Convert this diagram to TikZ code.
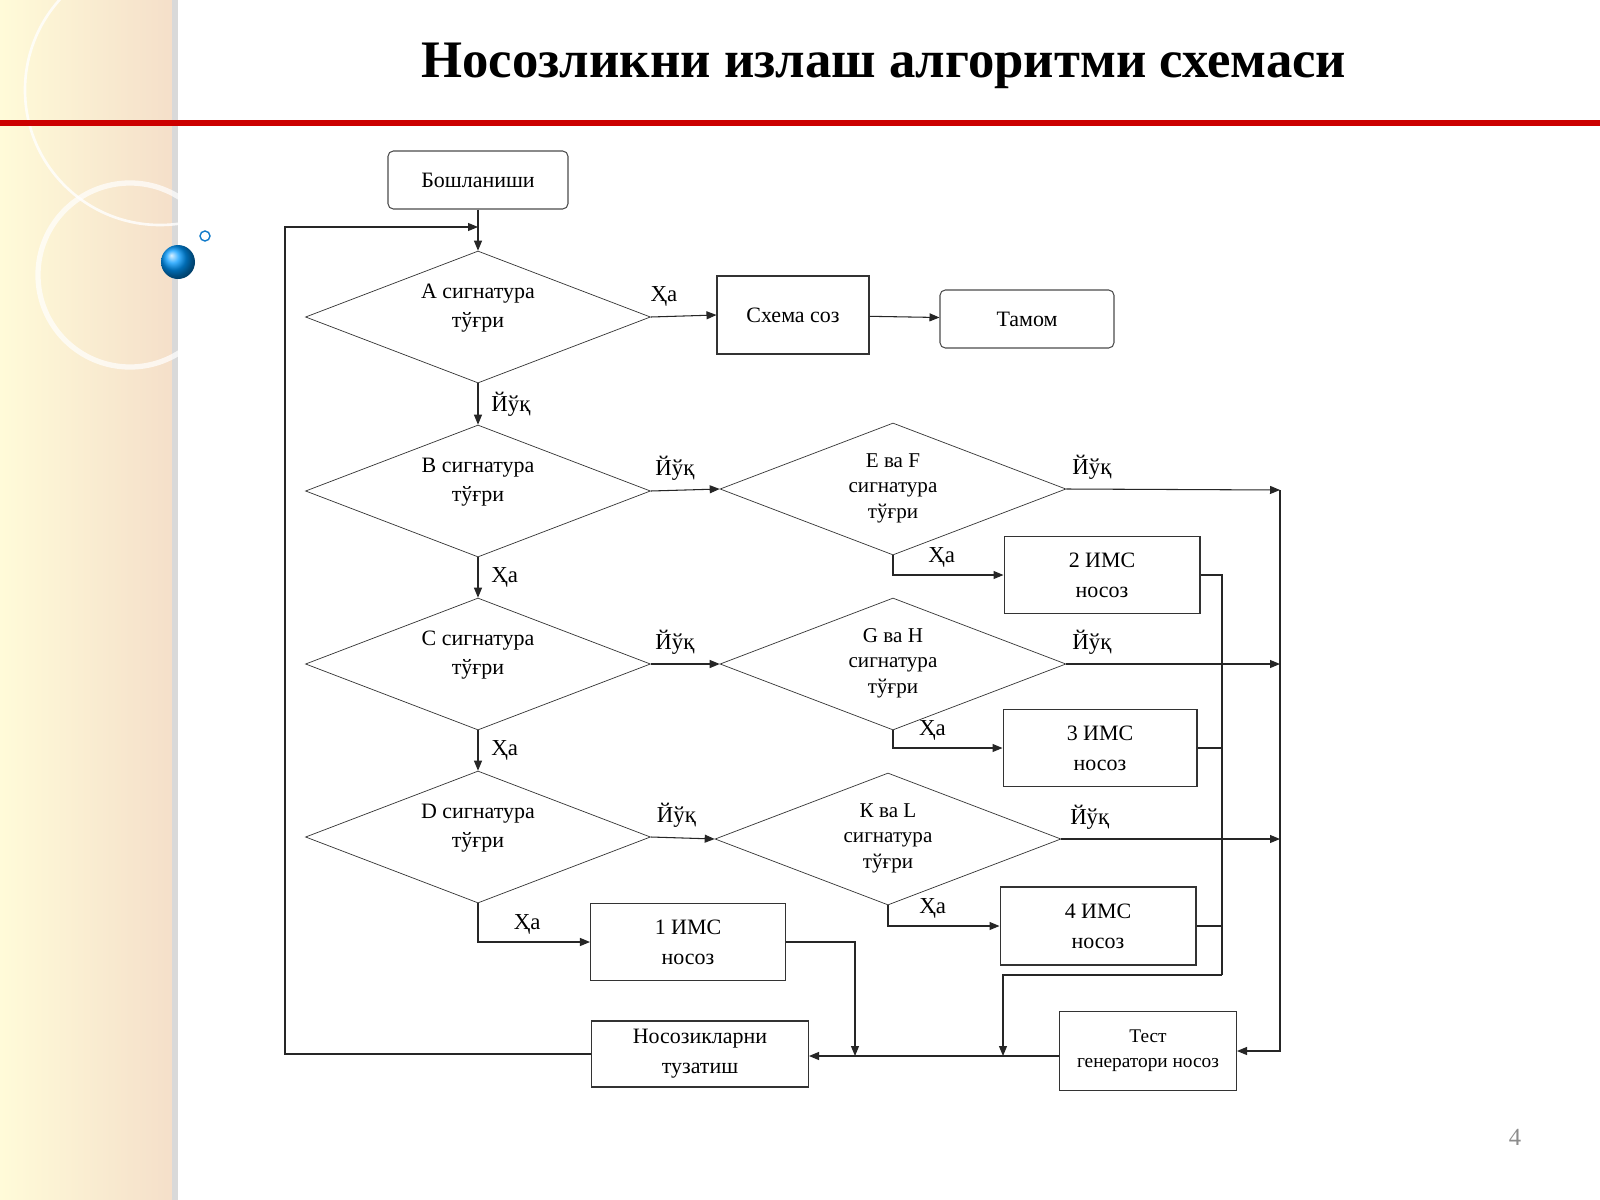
\documentclass[tikz,border=0pt]{standalone}
\usepackage{fontspec}
\setmainfont{Liberation Serif}
\usetikzlibrary{shapes.geometric,arrows.meta}
\begin{document}
\begin{tikzpicture}[x=0.02cm,y=-0.02cm,
  every node/.style={font=\fontsize{12.5}{17}\selectfont},
  box/.style={draw=black!80,semithick,minimum width=#1,align=center,inner sep=2pt},
  rbox/.style={draw=black!70,semithick,rounded corners=3pt,align=center},
  dia/.style={draw=black!80,diamond,minimum width=6.9cm,minimum height=2.64cm,inner sep=0pt},
  dt/.style={align=center,font=\fontsize{12.5}{16.5}\selectfont},
  ln/.style={draw=black!85,semithick},
  arr/.style={ln,-{Triangle[length=0.2cm,width=0.16cm]}},
  lab/.style={font=\fontsize{13}{15}\selectfont}]
\useasboundingbox (0,0) rectangle (1600,1200);
% background
\fill[white] (0,0) rectangle (1600,1200);
\fill[left color=orange!20!yellow!15, right color=orange!35!brown!25] (0,0) rectangle (172,1200);
\fill[black!15] (172,0) rectangle (178,1200);
\draw[white,line width=3pt,opacity=0.7] (130,275) circle (92);
\draw[white,line width=1.5pt,opacity=0.8] (160,90) circle (135);
\shade[ball color=cyan!60!blue] (178,262) circle (17);
\draw[cyan!60!blue,thick] (205,236) circle (5);
\fill[red!80!black] (0,120) rectangle (1600,126);
\node[font=\fontsize{30}{34}\selectfont\bfseries] (title) at (884,66) {Носозликни излаш алгоритми схемаси};
\node[text=black!45,font=\fontsize{14}{16}\selectfont] (pg) at (1515,1137) {4};
% nodes
\node[rbox,minimum width=3.6cm,minimum height=1.16cm] (start) at (478,180) {Бошланиши};
\node[dia] (dA) at (478,317) {};
\node[dt] (tA) at (478,308) {А сигнатура\\тўғри};
\node[box=3.04cm,minimum height=1.56cm] (sxs) at (793,315) {Схема соз};
\node[rbox,minimum width=3.48cm,minimum height=1.16cm] (end) at (1027,319) {Тамом};
\node[dia] (dB) at (478,491) {};
\node[dt] (tB) at (478,482) {В сигнатура\\тўғри};
\node[dia,minimum width=6.92cm] (dEF) at (893,489) {};
\node[dt,font=\fontsize{12}{14.5}\selectfont] (tEF) at (893,488) {Е ва F\\сигнатура\\тўғри};
\node[box=3.92cm,minimum height=1.54cm] (i2) at (1102,575) {2 ИМС\\носоз};
\node[dia] (dC) at (478,664) {};
\node[dt] (tC) at (478,655) {С сигнатура\\тўғри};
\node[dia,minimum width=6.92cm] (dGH) at (893,664) {};
\node[dt,font=\fontsize{12}{14.5}\selectfont] (tGH) at (893,663) {G ва H\\сигнатура\\тўғри};
\node[box=3.88cm,minimum height=1.54cm] (i3) at (1100,748) {3 ИМС\\носоз};
\node[dia] (dD) at (478,837) {};
\node[dt] (tD) at (478,828) {D сигнатура\\тўғри};
\node[dia,minimum width=6.92cm] (dKL) at (888,839) {};
\node[dt,font=\fontsize{12}{14.5}\selectfont] (tKL) at (888,838) {К ва L\\сигнатура\\тўғри};
\node[box=3.92cm,minimum height=1.56cm] (i4) at (1098,926) {4 ИМС\\носоз};
\node[box=3.9cm,minimum height=1.54cm] (i1) at (688,942) {1 ИМС\\носоз};
\node[box=4.34cm,minimum height=1.32cm] (fix) at (700,1054) {Носозикларни\\тузатиш};
\node[box=3.54cm,minimum height=1.58cm,font=\fontsize{11}{14}\selectfont] (test) at (1148,1051) {Тест\\генератори носоз};
% coordinates
\coordinate (j1) at (478,227);
\coordinate (L) at (285,227);
\coordinate (R1) at (1280,490);
\coordinate (R2) at (1280,664);
\coordinate (R3) at (1280,839);
\coordinate (V) at (1222,975);
\coordinate (m1) at (855,1056);
\coordinate (m2) at (1003,1056);
% connectors
\draw[ln] (start) -- (j1);
\draw[arr] (j1) -- (dA.north);
\draw[arr] (fix.west) -| (L) -- (j1);
\draw[arr] (dA.east) -- (sxs.west) node[lab,pos=0.2,above=2pt] {Ҳа};
\draw[arr] (sxs) -- (end);
\draw[arr] (dA.south) -- (dB.north) node[lab,midway,right=4pt] {Йўқ};
\draw[arr] (dB.east) -- (dEF.west) node[lab,pos=0.35,above=2pt] {Йўқ};
\draw[arr] (dB.south) -- (dC.north) node[lab,midway,right=4pt] {Ҳа};
\draw[arr] (dC.east) -- (dGH.west) node[lab,pos=0.35,above=2pt] {Йўқ};
\draw[arr] (dC.south) -- (dD.north) node[lab,midway,right=4pt] {Ҳа};
\draw[arr] (dD.east) -- (dKL.west) node[lab,pos=0.4,above=2pt] {Йўқ};
\draw[arr] (dD.south) |- (i1.west) node[lab,pos=0.72,above=1pt] {Ҳа};
\draw[arr] (dEF.east) -- (R1) node[lab,pos=0.12,above=2pt] {Йўқ};
\draw[arr] (dGH.east) -- (R2) node[lab,pos=0.12,above=2pt] {Йўқ};
\draw[arr] (dKL.east) -- (R3) node[lab,pos=0.13,above=2pt] {Йўқ};
\draw[arr] (dEF.south) |- (i2.west) node[lab,pos=0.72,above=1pt] {Ҳа};
\draw[arr] (dGH.south) |- (i3.west) node[lab,pos=0.68,above=1pt] {Ҳа};
\draw[arr] (dKL.south) |- (i4.west) node[lab,pos=0.7,above=1pt] {Ҳа};
\draw[ln] (i2.east) -| (V);
\draw[ln] (i3.east) -- (V|-i3.east);
\draw[ln] (i4.east) -- (V|-i4.east);
\draw[arr] (V) -| (m2);
\draw[arr] (R1) |- (test.east);
\draw[arr] (test.west|-m1) -- (fix.east|-m1);
\draw[arr] (i1.east) -| (m1);
\end{tikzpicture}
\end{document}
